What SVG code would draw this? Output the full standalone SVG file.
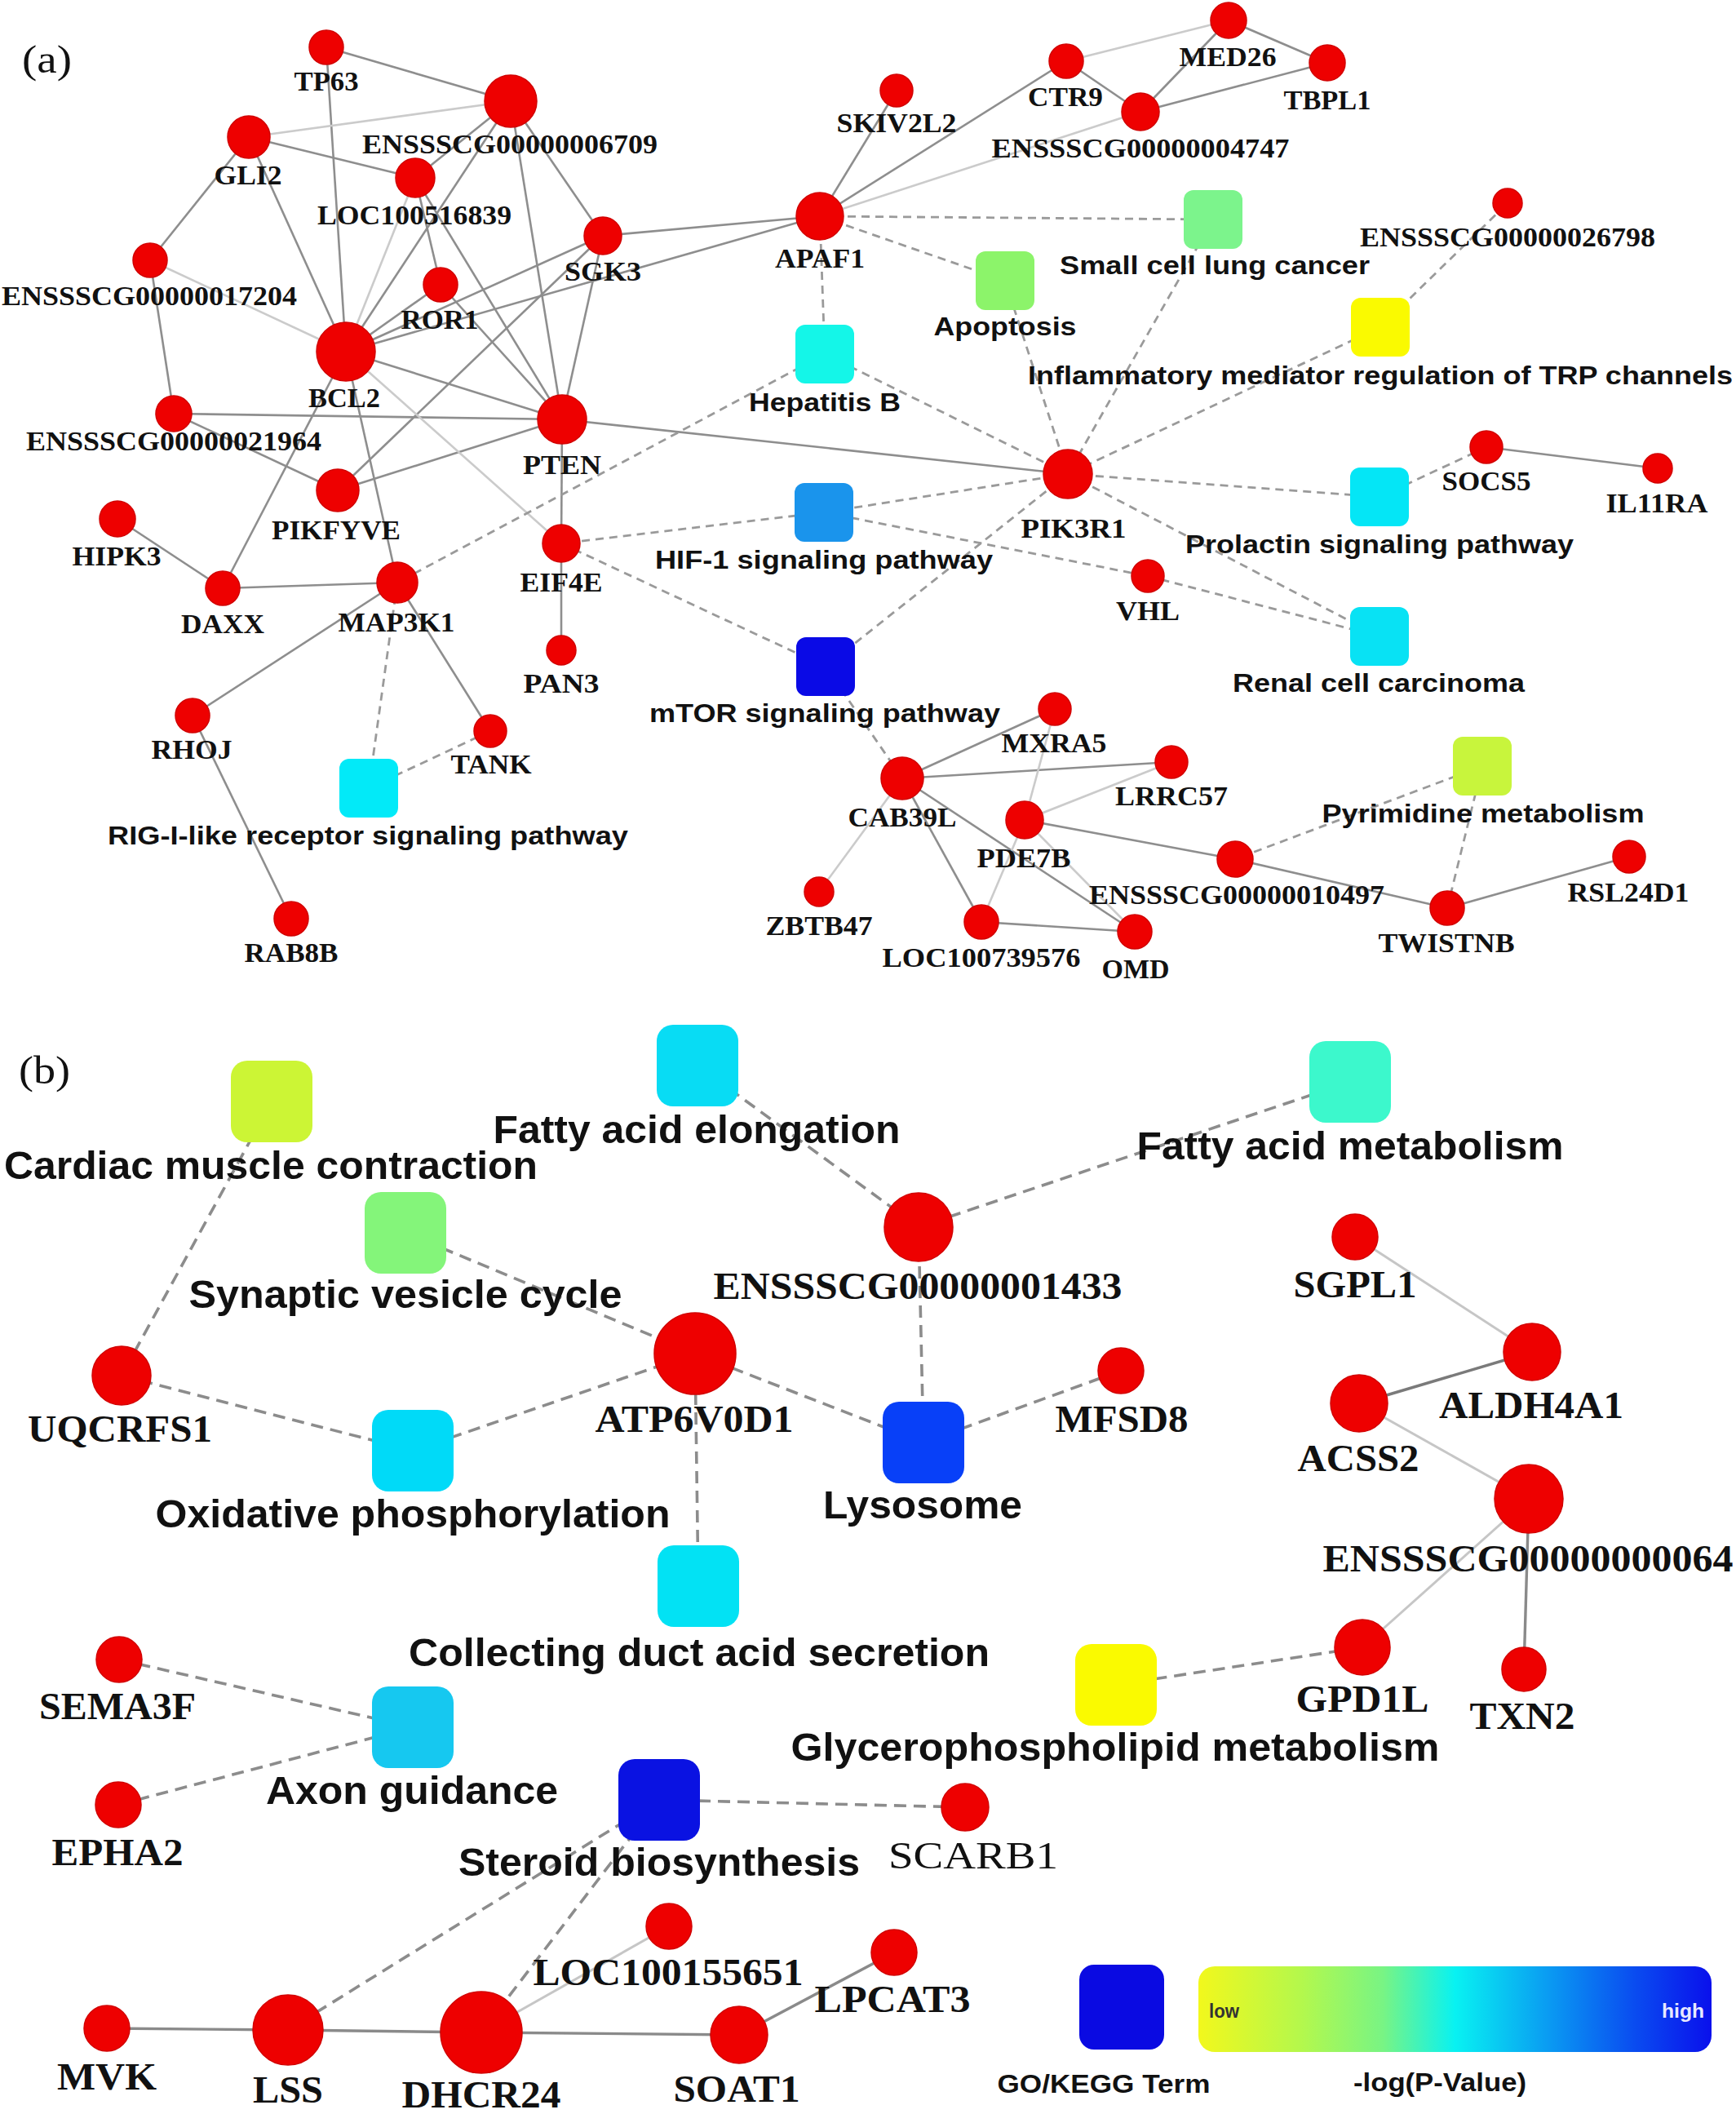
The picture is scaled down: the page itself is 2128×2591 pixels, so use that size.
<svg xmlns="http://www.w3.org/2000/svg" width="2128" height="2591" viewBox="0 0 2128 2591">
<defs>
<style>
.n{fill:#ee0000;stroke:#d20000;stroke-width:1.5}
.s{stroke:#8e8e8e;stroke-width:2.6;fill:none}
.sl{stroke:#cbcbcb;stroke-width:2.6;fill:none}
.sd{stroke:#7a7a7a;stroke-width:3.4;fill:none}
.d{stroke:#9a9a9a;stroke-width:2.8;fill:none;stroke-dasharray:10 7}
.db{stroke:#8c8c8c;stroke-width:3.6;fill:none;stroke-dasharray:15 9}
.sb{stroke:#8a8a8a;stroke-width:3.4;fill:none}
.sbl{stroke:#c6c6c6;stroke-width:3;fill:none}
.ga{font-family:"Liberation Serif","Times New Roman",serif;font-weight:bold;font-size:33px;text-anchor:middle;fill:#111}
.ta{font-family:"Liberation Sans",Arial,sans-serif;font-weight:bold;font-size:32px;text-anchor:middle;fill:#111}
.gb{font-family:"Liberation Serif","Times New Roman",serif;font-weight:bold;font-size:46px;text-anchor:middle;fill:#111}
.tb{font-family:"Liberation Sans",Arial,sans-serif;font-weight:bold;font-size:48px;text-anchor:middle;fill:#111}
.lg{font-family:"Liberation Sans",Arial,sans-serif;font-weight:bold;font-size:31px;text-anchor:middle;fill:#111}
.pl{font-family:"Liberation Serif","Times New Roman",serif;font-size:48px;fill:#111}
</style>
<linearGradient id="grad" x1="0" y1="0" x2="1" y2="0">
<stop offset="0" stop-color="#f2f81c"/>
<stop offset="0.2" stop-color="#b4f84c"/>
<stop offset="0.36" stop-color="#78f484"/>
<stop offset="0.5" stop-color="#08f2f2"/>
<stop offset="0.68" stop-color="#0a9cf2"/>
<stop offset="0.85" stop-color="#0a4cf0"/>
<stop offset="1" stop-color="#0a10ec"/>
</linearGradient>
</defs>
<rect x="0" y="0" width="2128" height="2591" fill="#ffffff"/>

<g id="connectors">
<line class="s" x1="400" y1="58" x2="626" y2="124"/>
<line class="s" x1="400" y1="58" x2="424" y2="431"/>
<line class="s" x1="305" y1="168" x2="509" y2="218"/>
<line class="s" x1="305" y1="168" x2="184" y2="319"/>
<line class="s" x1="305" y1="168" x2="424" y2="431"/>
<line class="s" x1="626" y1="124" x2="509" y2="218"/>
<line class="s" x1="626" y1="124" x2="424" y2="431"/>
<line class="s" x1="626" y1="124" x2="689" y2="514"/>
<line class="s" x1="626" y1="124" x2="739" y2="289"/>
<line class="s" x1="509" y1="218" x2="540" y2="349"/>
<line class="s" x1="509" y1="218" x2="689" y2="514"/>
<line class="s" x1="184" y1="319" x2="213" y2="507"/>
<line class="s" x1="540" y1="349" x2="424" y2="431"/>
<line class="s" x1="540" y1="349" x2="689" y2="514"/>
<line class="s" x1="739" y1="289" x2="424" y2="431"/>
<line class="s" x1="424" y1="431" x2="1005" y2="265"/>
<line class="s" x1="739" y1="289" x2="1005" y2="265"/>
<line class="s" x1="739" y1="289" x2="689" y2="514"/>
<line class="s" x1="739" y1="289" x2="414" y2="601"/>
<line class="s" x1="424" y1="431" x2="689" y2="514"/>
<line class="s" x1="424" y1="431" x2="273" y2="721"/>
<line class="s" x1="424" y1="431" x2="487" y2="714"/>
<line class="s" x1="213" y1="507" x2="689" y2="514"/>
<line class="s" x1="213" y1="507" x2="414" y2="601"/>
<line class="s" x1="414" y1="601" x2="689" y2="514"/>
<line class="s" x1="689" y1="514" x2="688" y2="666"/>
<line class="s" x1="689" y1="514" x2="1309" y2="581"/>
<line class="s" x1="273" y1="721" x2="144" y2="636"/>
<line class="s" x1="273" y1="721" x2="487" y2="714"/>
<line class="s" x1="487" y1="714" x2="236" y2="877"/>
<line class="s" x1="487" y1="714" x2="601" y2="896"/>
<line class="s" x1="236" y1="877" x2="357" y2="1126"/>
<line class="s" x1="688" y1="666" x2="688" y2="797"/>
<line class="s" x1="1005" y1="265" x2="1099" y2="111"/>
<line class="s" x1="1005" y1="265" x2="1307" y2="75"/>
<line class="s" x1="1307" y1="75" x2="1398" y2="137"/>
<line class="s" x1="1506" y1="25" x2="1398" y2="137"/>
<line class="s" x1="1506" y1="25" x2="1627" y2="77"/>
<line class="s" x1="1398" y1="137" x2="1627" y2="77"/>
<line class="s" x1="1822" y1="548" x2="2032" y2="574"/>
<line class="s" x1="1106" y1="954" x2="1293" y2="869"/>
<line class="s" x1="1106" y1="954" x2="1436" y2="934"/>
<line class="s" x1="1106" y1="954" x2="1203" y2="1130"/>
<line class="s" x1="1106" y1="954" x2="1391" y2="1142"/>
<line class="s" x1="1256" y1="1005" x2="1514" y2="1053"/>
<line class="s" x1="1203" y1="1130" x2="1391" y2="1142"/>
<line class="s" x1="1514" y1="1053" x2="1774" y2="1113"/>
<line class="s" x1="1774" y1="1113" x2="1997" y2="1050"/>
<line class="sl" x1="305" y1="168" x2="626" y2="124"/>
<line class="sl" x1="509" y1="218" x2="424" y2="431"/>
<line class="sl" x1="184" y1="319" x2="424" y2="431"/>
<line class="sl" x1="424" y1="431" x2="688" y2="666"/>
<line class="sl" x1="1005" y1="265" x2="1398" y2="137"/>
<line class="sl" x1="1307" y1="75" x2="1506" y2="25"/>
<line class="sl" x1="1106" y1="954" x2="1004" y2="1093"/>
<line class="sl" x1="1293" y1="869" x2="1256" y2="1005"/>
<line class="sl" x1="1436" y1="934" x2="1256" y2="1005"/>
<line class="sl" x1="1256" y1="1005" x2="1203" y2="1130"/>
<line class="sl" x1="1256" y1="1005" x2="1391" y2="1142"/>
<line class="d" x1="1005" y1="265" x2="1487" y2="269"/>
<line class="d" x1="1005" y1="265" x2="1232" y2="344"/>
<line class="d" x1="1005" y1="265" x2="1011" y2="434"/>
<line class="d" x1="1011" y1="434" x2="1309" y2="581"/>
<line class="d" x1="1011" y1="434" x2="487" y2="714"/>
<line class="d" x1="1232" y1="344" x2="1309" y2="581"/>
<line class="d" x1="1487" y1="269" x2="1309" y2="581"/>
<line class="d" x1="1692" y1="401" x2="1309" y2="581"/>
<line class="d" x1="1692" y1="401" x2="1848" y2="249"/>
<line class="d" x1="1309" y1="581" x2="1691" y2="609"/>
<line class="d" x1="1309" y1="581" x2="1691" y2="780"/>
<line class="d" x1="1309" y1="581" x2="1010" y2="628"/>
<line class="d" x1="1309" y1="581" x2="1012" y2="817"/>
<line class="d" x1="1010" y1="628" x2="688" y2="666"/>
<line class="d" x1="1010" y1="628" x2="1407" y2="706"/>
<line class="d" x1="688" y1="666" x2="1012" y2="817"/>
<line class="d" x1="1012" y1="817" x2="1106" y2="954"/>
<line class="d" x1="1407" y1="706" x2="1691" y2="780"/>
<line class="d" x1="1691" y1="609" x2="1822" y2="548"/>
<line class="d" x1="487" y1="714" x2="452" y2="966"/>
<line class="d" x1="601" y1="896" x2="452" y2="966"/>
<line class="d" x1="1817" y1="939" x2="1514" y2="1053"/>
<line class="d" x1="1817" y1="939" x2="1774" y2="1113"/>
<line class="db" x1="333" y1="1350" x2="149" y2="1686"/>
<line class="db" x1="149" y1="1686" x2="506" y2="1778"/>
<line class="db" x1="506" y1="1778" x2="852" y2="1659"/>
<line class="db" x1="497" y1="1511" x2="852" y2="1659"/>
<line class="db" x1="852" y1="1659" x2="1132" y2="1768"/>
<line class="db" x1="852" y1="1659" x2="856" y2="1944"/>
<line class="db" x1="855" y1="1306" x2="1126" y2="1504"/>
<line class="db" x1="1655" y1="1326" x2="1126" y2="1504"/>
<line class="db" x1="1126" y1="1504" x2="1132" y2="1768"/>
<line class="db" x1="1132" y1="1768" x2="1374" y2="1680"/>
<line class="db" x1="146" y1="2034" x2="506" y2="2117"/>
<line class="db" x1="145" y1="2212" x2="506" y2="2117"/>
<line class="db" x1="808" y1="2206" x2="1183" y2="2215"/>
<line class="db" x1="808" y1="2206" x2="353" y2="2488"/>
<line class="db" x1="808" y1="2206" x2="590" y2="2491"/>
<line class="db" x1="1368" y1="2065" x2="1670" y2="2019"/>
<line class="sbl" x1="1661" y1="1516" x2="1878" y2="1657"/>
<line class="sd" x1="1878" y1="1657" x2="1666" y2="1720"/>
<line class="sbl" x1="1666" y1="1720" x2="1874" y2="1837"/>
<line class="sbl" x1="1874" y1="1837" x2="1670" y2="2019"/>
<line class="sb" x1="1874" y1="1837" x2="1868" y2="2046"/>
<line class="sb" x1="131" y1="2486" x2="353" y2="2488"/>
<line class="sb" x1="353" y1="2488" x2="590" y2="2491"/>
<line class="sb" x1="590" y1="2491" x2="906" y2="2494"/>
<line class="sbl" x1="590" y1="2491" x2="820" y2="2361"/>
<line class="sb" x1="906" y1="2494" x2="1096" y2="2393"/>
</g>

<text class="pl" x="27" y="89" textLength="61" lengthAdjust="spacingAndGlyphs">(a)</text>
<text class="pl" x="23" y="1328" textLength="63" lengthAdjust="spacingAndGlyphs">(b)</text>

<g id="n-TP63"><circle class="n" cx="400" cy="58" r="21"/><text class="ga" x="400" y="111" textLength="79" lengthAdjust="spacingAndGlyphs">TP63</text></g>
<g id="n-ENSSSCG00000006709"><circle class="n" cx="626" cy="124" r="32"/><text class="ga" x="625" y="188" textLength="362" lengthAdjust="spacingAndGlyphs">ENSSSCG00000006709</text></g>
<g id="n-GLI2"><circle class="n" cx="305" cy="168" r="26"/><text class="ga" x="304" y="226" textLength="83" lengthAdjust="spacingAndGlyphs">GLI2</text></g>
<g id="n-LOC100516839"><circle class="n" cx="509" cy="218" r="24"/><text class="ga" x="508" y="275" textLength="238" lengthAdjust="spacingAndGlyphs">LOC100516839</text></g>
<g id="n-ENSSSCG00000017204"><circle class="n" cx="184" cy="319" r="21"/><text class="ga" x="183" y="374" textLength="362" lengthAdjust="spacingAndGlyphs">ENSSSCG00000017204</text></g>
<g id="n-ROR1"><circle class="n" cx="540" cy="349" r="21"/><text class="ga" x="539" y="403" textLength="95" lengthAdjust="spacingAndGlyphs">ROR1</text></g>
<g id="n-SGK3"><circle class="n" cx="739" cy="289" r="23"/><text class="ga" x="739" y="344" textLength="94" lengthAdjust="spacingAndGlyphs">SGK3</text></g>
<g id="n-BCL2"><circle class="n" cx="424" cy="431" r="36"/><text class="ga" x="422" y="499" textLength="88" lengthAdjust="spacingAndGlyphs">BCL2</text></g>
<g id="n-ENSSSCG00000021964"><circle class="n" cx="213" cy="507" r="22"/><text class="ga" x="213" y="552" textLength="362" lengthAdjust="spacingAndGlyphs">ENSSSCG00000021964</text></g>
<g id="n-PTEN"><circle class="n" cx="689" cy="514" r="30"/><text class="ga" x="689" y="581" textLength="96" lengthAdjust="spacingAndGlyphs">PTEN</text></g>
<g id="n-PIKFYVE"><circle class="n" cx="414" cy="601" r="26"/><text class="ga" x="412" y="661" textLength="158" lengthAdjust="spacingAndGlyphs">PIKFYVE</text></g>
<g id="n-HIPK3"><circle class="n" cx="144" cy="636" r="22"/><text class="ga" x="143" y="693" textLength="109" lengthAdjust="spacingAndGlyphs">HIPK3</text></g>
<g id="n-DAXX"><circle class="n" cx="273" cy="721" r="21"/><text class="ga" x="273" y="776" textLength="102" lengthAdjust="spacingAndGlyphs">DAXX</text></g>
<g id="n-MAP3K1"><circle class="n" cx="487" cy="714" r="25"/><text class="ga" x="486" y="774" textLength="143" lengthAdjust="spacingAndGlyphs">MAP3K1</text></g>
<g id="n-EIF4E"><circle class="n" cx="688" cy="666" r="23"/><text class="ga" x="688" y="725" textLength="101" lengthAdjust="spacingAndGlyphs">EIF4E</text></g>
<g id="n-PAN3"><circle class="n" cx="688" cy="797" r="18"/><text class="ga" x="688" y="849" textLength="93" lengthAdjust="spacingAndGlyphs">PAN3</text></g>
<g id="n-RHOJ"><circle class="n" cx="236" cy="877" r="21"/><text class="ga" x="235" y="930" textLength="99" lengthAdjust="spacingAndGlyphs">RHOJ</text></g>
<g id="n-TANK"><circle class="n" cx="601" cy="896" r="20"/><text class="ga" x="602" y="948" textLength="99" lengthAdjust="spacingAndGlyphs">TANK</text></g>
<g id="n-RAB8B"><circle class="n" cx="357" cy="1126" r="21"/><text class="ga" x="357" y="1179" textLength="115" lengthAdjust="spacingAndGlyphs">RAB8B</text></g>
<g id="n-SKIV2L2"><circle class="n" cx="1099" cy="111" r="20"/><text class="ga" x="1099" y="162" textLength="147" lengthAdjust="spacingAndGlyphs">SKIV2L2</text></g>
<g id="n-CTR9"><circle class="n" cx="1307" cy="75" r="21"/><text class="ga" x="1306" y="130" textLength="92" lengthAdjust="spacingAndGlyphs">CTR9</text></g>
<g id="n-MED26"><circle class="n" cx="1506" cy="25" r="22"/><text class="ga" x="1505" y="81" textLength="119" lengthAdjust="spacingAndGlyphs">MED26</text></g>
<g id="n-ENSSSCG00000004747"><circle class="n" cx="1398" cy="137" r="23"/><text class="ga" x="1398" y="193" textLength="365" lengthAdjust="spacingAndGlyphs">ENSSSCG00000004747</text></g>
<g id="n-TBPL1"><circle class="n" cx="1627" cy="77" r="22"/><text class="ga" x="1627" y="134" textLength="107" lengthAdjust="spacingAndGlyphs">TBPL1</text></g>
<g id="n-APAF1"><circle class="n" cx="1005" cy="265" r="29"/><text class="ga" x="1005" y="328" textLength="110" lengthAdjust="spacingAndGlyphs">APAF1</text></g>
<g id="n-ENSSSCG00000026798"><circle class="n" cx="1848" cy="249" r="18"/><text class="ga" x="1848" y="302" textLength="362" lengthAdjust="spacingAndGlyphs">ENSSSCG00000026798</text></g>
<g id="n-PIK3R1"><circle class="n" cx="1309" cy="581" r="30"/><text class="ga" x="1316" y="659" textLength="129" lengthAdjust="spacingAndGlyphs">PIK3R1</text></g>
<g id="n-SOCS5"><circle class="n" cx="1822" cy="548" r="20"/><text class="ga" x="1822" y="601" textLength="109" lengthAdjust="spacingAndGlyphs">SOCS5</text></g>
<g id="n-IL11RA"><circle class="n" cx="2032" cy="574" r="18"/><text class="ga" x="2031" y="628" textLength="125" lengthAdjust="spacingAndGlyphs">IL11RA</text></g>
<g id="n-VHL"><circle class="n" cx="1407" cy="706" r="20"/><text class="ga" x="1407" y="760" textLength="78" lengthAdjust="spacingAndGlyphs">VHL</text></g>
<g id="n-MXRA5"><circle class="n" cx="1293" cy="869" r="20"/><text class="ga" x="1292" y="922" textLength="129" lengthAdjust="spacingAndGlyphs">MXRA5</text></g>
<g id="n-CAB39L"><circle class="n" cx="1106" cy="954" r="26"/><text class="ga" x="1106" y="1013" textLength="133" lengthAdjust="spacingAndGlyphs">CAB39L</text></g>
<g id="n-LRRC57"><circle class="n" cx="1436" cy="934" r="20"/><text class="ga" x="1436" y="987" textLength="138" lengthAdjust="spacingAndGlyphs">LRRC57</text></g>
<g id="n-PDE7B"><circle class="n" cx="1256" cy="1005" r="23"/><text class="ga" x="1255" y="1063" textLength="115" lengthAdjust="spacingAndGlyphs">PDE7B</text></g>
<g id="n-ENSSSCG00000010497"><circle class="n" cx="1514" cy="1053" r="22"/><text class="ga" x="1516" y="1108" textLength="362" lengthAdjust="spacingAndGlyphs">ENSSSCG00000010497</text></g>
<g id="n-RSL24D1"><circle class="n" cx="1997" cy="1050" r="20"/><text class="ga" x="1996" y="1105" textLength="149" lengthAdjust="spacingAndGlyphs">RSL24D1</text></g>
<g id="n-TWISTNB"><circle class="n" cx="1774" cy="1113" r="21"/><text class="ga" x="1773" y="1167" textLength="167" lengthAdjust="spacingAndGlyphs">TWISTNB</text></g>
<g id="n-ZBTB47"><circle class="n" cx="1004" cy="1093" r="18"/><text class="ga" x="1004" y="1146" textLength="131" lengthAdjust="spacingAndGlyphs">ZBTB47</text></g>
<g id="n-LOC100739576"><circle class="n" cx="1203" cy="1130" r="21"/><text class="ga" x="1203" y="1185" textLength="243" lengthAdjust="spacingAndGlyphs">LOC100739576</text></g>
<g id="n-OMD"><circle class="n" cx="1391" cy="1142" r="21"/><text class="ga" x="1392" y="1199" textLength="83" lengthAdjust="spacingAndGlyphs">OMD</text></g>

<g id="t-RIG-I"><rect x="416" y="930" width="72" height="72" rx="12" fill="#02eaf8"/><text class="ta" x="451" y="1035" textLength="638" lengthAdjust="spacingAndGlyphs">RIG-I-like receptor signaling pathway</text></g>
<g id="t-SCLC"><rect x="1451" y="233" width="72" height="72" rx="12" fill="#7cf48c"/><text class="ta" x="1489" y="336" textLength="380" lengthAdjust="spacingAndGlyphs">Small cell lung cancer</text></g>
<g id="t-Apoptosis"><rect x="1196" y="308" width="72" height="72" rx="12" fill="#8cf46a"/><text class="ta" x="1232" y="411" textLength="175" lengthAdjust="spacingAndGlyphs">Apoptosis</text></g>
<g id="t-HepatitisB"><rect x="975" y="398" width="72" height="72" rx="12" fill="#14f6e8"/><text class="ta" x="1011" y="504" textLength="186" lengthAdjust="spacingAndGlyphs">Hepatitis B</text></g>
<g id="t-Inflammatory"><rect x="1656" y="365" width="72" height="72" rx="12" fill="#fafa00"/><text class="ta" x="1692" y="471" textLength="864" lengthAdjust="spacingAndGlyphs">Inflammatory mediator regulation of TRP channels</text></g>
<g id="t-Prolactin"><rect x="1655" y="573" width="72" height="72" rx="12" fill="#04e6f6"/><text class="ta" x="1691" y="678" textLength="476" lengthAdjust="spacingAndGlyphs">Prolactin signaling pathway</text></g>
<g id="t-HIF1"><rect x="974" y="592" width="72" height="72" rx="12" fill="#1a94ec"/><text class="ta" x="1010" y="697" textLength="414" lengthAdjust="spacingAndGlyphs">HIF-1 signaling pathway</text></g>
<g id="t-Renal"><rect x="1655" y="744" width="72" height="72" rx="12" fill="#08e2f4"/><text class="ta" x="1690" y="848" textLength="358" lengthAdjust="spacingAndGlyphs">Renal cell carcinoma</text></g>
<g id="t-mTOR"><rect x="976" y="781" width="72" height="72" rx="12" fill="#0a0ae6"/><text class="ta" x="1011" y="885" textLength="430" lengthAdjust="spacingAndGlyphs">mTOR signaling pathway</text></g>
<g id="t-Pyrimidine"><rect x="1781" y="903" width="72" height="72" rx="12" fill="#c8f53c"/><text class="ta" x="1818" y="1008" textLength="395" lengthAdjust="spacingAndGlyphs">Pyrimidine metabolism</text></g>

<g id="t-Cardiac"><rect x="283" y="1300" width="100" height="100" rx="20" fill="#ccf535"/><text class="tb" x="332" y="1445" textLength="654" lengthAdjust="spacingAndGlyphs">Cardiac muscle contraction</text></g>
<g id="t-FAElongation"><rect x="805" y="1256" width="100" height="100" rx="20" fill="#08dcf4"/><text class="tb" x="854" y="1401" textLength="499" lengthAdjust="spacingAndGlyphs">Fatty acid elongation</text></g>
<g id="t-FAMetabolism"><rect x="1605" y="1276" width="100" height="100" rx="20" fill="#3cf8cc"/><text class="tb" x="1655" y="1421" textLength="523" lengthAdjust="spacingAndGlyphs">Fatty acid metabolism</text></g>
<g id="t-Synaptic"><rect x="447" y="1461" width="100" height="100" rx="20" fill="#84f57a"/><text class="tb" x="497" y="1603" textLength="531" lengthAdjust="spacingAndGlyphs">Synaptic vesicle cycle</text></g>
<g id="t-Lysosome"><rect x="1082" y="1718" width="100" height="100" rx="20" fill="#0840f8"/><text class="tb" x="1131" y="1861" textLength="244" lengthAdjust="spacingAndGlyphs">Lysosome</text></g>
<g id="t-Oxidative"><rect x="456" y="1728" width="100" height="100" rx="20" fill="#00daf8"/><text class="tb" x="506" y="1872" textLength="631" lengthAdjust="spacingAndGlyphs">Oxidative phosphorylation</text></g>
<g id="t-Collecting"><rect x="806" y="1894" width="100" height="100" rx="20" fill="#02e2f4"/><text class="tb" x="857" y="2042" textLength="712" lengthAdjust="spacingAndGlyphs">Collecting duct acid secretion</text></g>
<g id="t-Axon"><rect x="456" y="2067" width="100" height="100" rx="20" fill="#16c8f0"/><text class="tb" x="505" y="2211" textLength="358" lengthAdjust="spacingAndGlyphs">Axon guidance</text></g>
<g id="t-Glycero"><rect x="1318" y="2015" width="100" height="100" rx="20" fill="#fafa00"/><text class="tb" x="1367" y="2158" textLength="795" lengthAdjust="spacingAndGlyphs">Glycerophospholipid metabolism</text></g>
<g id="t-Steroid"><rect x="758" y="2156" width="100" height="100" rx="20" fill="#0a12e2"/><text class="tb" x="808" y="2299" textLength="492" lengthAdjust="spacingAndGlyphs">Steroid biosynthesis</text></g>

<g id="n-ENSSSCG00000001433"><circle class="n" cx="1126" cy="1504" r="42"/><text class="gb" x="1125" y="1592" textLength="501" lengthAdjust="spacingAndGlyphs">ENSSSCG00000001433</text></g>
<g id="n-SGPL1"><circle class="n" cx="1661" cy="1516" r="28"/><text class="gb" x="1661" y="1590" textLength="151" lengthAdjust="spacingAndGlyphs">SGPL1</text></g>
<g id="n-ALDH4A1"><circle class="n" cx="1878" cy="1657" r="35"/><text class="gb" x="1877" y="1738" textLength="226" lengthAdjust="spacingAndGlyphs">ALDH4A1</text></g>
<g id="n-ATP6V0D1"><circle class="n" cx="852" cy="1659" r="50"/><text class="gb" x="851" y="1755" textLength="243" lengthAdjust="spacingAndGlyphs">ATP6V0D1</text></g>
<g id="n-UQCRFS1"><circle class="n" cx="149" cy="1686" r="36"/><text class="gb" x="147" y="1767" textLength="226" lengthAdjust="spacingAndGlyphs">UQCRFS1</text></g>
<g id="n-MFSD8"><circle class="n" cx="1374" cy="1680" r="28"/><text class="gb" x="1375" y="1755" textLength="163" lengthAdjust="spacingAndGlyphs">MFSD8</text></g>
<g id="n-ACSS2"><circle class="n" cx="1666" cy="1720" r="35"/><text class="gb" x="1665" y="1803" textLength="149" lengthAdjust="spacingAndGlyphs">ACSS2</text></g>
<g id="n-ENSSSCG00000000064"><circle class="n" cx="1874" cy="1837" r="42"/><text class="gb" x="1873" y="1926" textLength="503" lengthAdjust="spacingAndGlyphs">ENSSSCG00000000064</text></g>
<g id="n-SEMA3F"><circle class="n" cx="146" cy="2034" r="28"/><text class="gb" x="144" y="2107" textLength="192" lengthAdjust="spacingAndGlyphs">SEMA3F</text></g>
<g id="n-GPD1L"><circle class="n" cx="1670" cy="2019" r="34"/><text class="gb" x="1670" y="2098" textLength="163" lengthAdjust="spacingAndGlyphs">GPD1L</text></g>
<g id="n-TXN2"><circle class="n" cx="1868" cy="2046" r="27"/><text class="gb" x="1866" y="2119" textLength="129" lengthAdjust="spacingAndGlyphs">TXN2</text></g>
<g id="n-EPHA2"><circle class="n" cx="145" cy="2212" r="28"/><text class="gb" x="144" y="2286" textLength="161" lengthAdjust="spacingAndGlyphs">EPHA2</text></g>
<g id="n-SCARB1"><circle class="n" cx="1183" cy="2215" r="29"/><text class="gb" x="1193" y="2290" textLength="208" lengthAdjust="spacingAndGlyphs" style="font-weight:normal">SCARB1</text></g>
<g id="n-LOC100155651"><circle class="n" cx="820" cy="2361" r="28"/><text class="gb" x="819" y="2433" textLength="331" lengthAdjust="spacingAndGlyphs">LOC100155651</text></g>
<g id="n-LPCAT3"><circle class="n" cx="1096" cy="2393" r="28"/><text class="gb" x="1094" y="2466" textLength="191" lengthAdjust="spacingAndGlyphs">LPCAT3</text></g>
<g id="n-MVK"><circle class="n" cx="131" cy="2486" r="28"/><text class="gb" x="131" y="2561" textLength="122" lengthAdjust="spacingAndGlyphs">MVK</text></g>
<g id="n-LSS"><circle class="n" cx="353" cy="2488" r="43"/><text class="gb" x="353" y="2577" textLength="86" lengthAdjust="spacingAndGlyphs">LSS</text></g>
<g id="n-DHCR24"><circle class="n" cx="590" cy="2491" r="50"/><text class="gb" x="590" y="2583" textLength="195" lengthAdjust="spacingAndGlyphs">DHCR24</text></g>
<g id="n-SOAT1"><circle class="n" cx="906" cy="2494" r="35"/><text class="gb" x="903" y="2576" textLength="155" lengthAdjust="spacingAndGlyphs">SOAT1</text></g>

<g id="legend">
<rect x="1323" y="2408" width="104" height="104" rx="18" fill="#0a0ae2"/>
<text class="lg" x="1353" y="2565" textLength="261" lengthAdjust="spacingAndGlyphs">GO/KEGG Term</text>
<rect x="1469" y="2410" width="629" height="105" rx="20" fill="url(#grad)"/>
<text x="1482" y="2473" font-family="Liberation Sans, Arial, sans-serif" font-weight="bold" font-size="24" fill="#333" textLength="37" lengthAdjust="spacingAndGlyphs">low</text>
<text x="2037" y="2473" font-family="Liberation Sans, Arial, sans-serif" font-weight="bold" font-size="24" fill="#e8e8ff" textLength="52" lengthAdjust="spacingAndGlyphs">high</text>
<text class="lg" x="1765" y="2563" textLength="212" lengthAdjust="spacingAndGlyphs">-log(P-Value)</text>
</g>
</svg>
